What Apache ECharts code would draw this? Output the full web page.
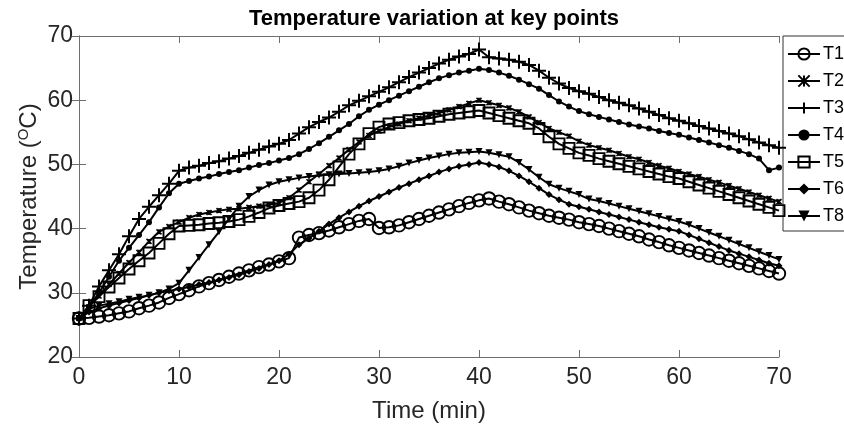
<!DOCTYPE html>
<html>
<head>
<meta charset="utf-8">
<script src="https://cdn.jsdelivr.net/npm/echarts@6/dist/echarts.min.js"></script>
<style>html,body{margin:0;padding:0;background:#fff;}#c{width:844px;height:428px;}</style>
</head>
<body>
<div id="c"></div>
<script>
const time = [0,1,2,3,4,5,6,7,8,9,10,11,12,13,14,15,16,17,18,19,20,21,22,23,24,25,26,27,28,29,30,31,32,33,34,35,36,37,38,39,40,41,42,43,44,45,46,47,48,49,50,51,52,53,54,55,56,57,58,59,60,61,62,63,64,65,66,67,68,69,70];
const xTicks = [0,10,20,30,40,50,60,70];
const yTicks = [20,30,40,50,60,70];
const seriesNames = ['T1','T2','T3','T4','T5','T6','T8'];
const T1 = [26,26.1,26.3,26.5,26.8,27.1,27.6,28.0,28.5,29.2,29.8,30.4,31.0,31.5,32.0,32.5,33.0,33.5,34.0,34.4,34.9,35.4,38.6,39.0,39.3,39.7,40.2,40.7,41.2,41.5,40.1,40.2,40.5,41.0,41.5,42.0,42.5,43.0,43.5,44.0,44.4,44.7,44.2,43.8,43.3,42.8,42.4,42.0,41.7,41.4,41.0,40.7,40.4,40.0,39.6,39.2,38.8,38.3,37.9,37.4,37.0,36.6,36.2,35.8,35.4,35.0,34.6,34.2,33.8,33.4,33.0];
const T2 = [26,27.8,29.5,31.3,33.0,34.7,36.3,38.0,39.5,40.3,41.0,41.7,42.2,42.5,42.8,43.0,43.1,43.3,43.5,43.7,44.0,44.8,46.0,47.3,48.5,49.8,51.0,52.3,53.5,54.5,55.2,55.8,56.3,56.8,57.2,57.6,58.0,58.5,59.0,59.5,60.0,59.6,59.2,58.8,58.2,57.4,56.5,55.6,55.0,54.4,53.6,53.0,52.6,52.2,51.7,51.2,50.8,50.3,49.8,49.4,48.9,48.5,48.1,47.6,47.2,46.7,46.2,45.7,45.2,44.7,44.2];
const T3 = [26,28.0,31.0,33.5,36.0,38.8,41.5,43.4,45.2,47.0,49.0,49.5,49.8,50.2,50.5,50.9,51.3,51.8,52.3,52.8,53.2,53.8,54.8,55.8,56.6,57.3,58.2,59.2,59.9,60.6,61.3,62.0,62.8,63.6,64.3,65.0,65.7,66.3,66.8,67.2,67.9,66.7,66.5,66.3,66.0,65.5,64.6,63.5,62.6,61.9,61.4,61.0,60.5,60.0,59.6,59.2,58.7,58.2,57.7,57.2,56.8,56.4,56.0,55.6,55.2,54.8,54.4,53.9,53.4,53.0,52.6];
const T4 = [26,27.8,30.0,32.5,35.0,37.0,39.0,41.0,43.3,45.5,47.0,47.4,47.8,48.1,48.5,48.8,49.1,49.5,49.9,50.2,50.6,51.0,51.6,52.4,53.3,54.3,55.3,56.3,57.5,58.5,59.3,60.0,60.7,61.4,62.1,62.8,63.4,63.9,64.3,64.6,64.9,64.7,64.3,63.8,63.2,62.5,61.8,60.8,59.8,59.0,58.3,57.8,57.4,57.0,56.6,56.2,55.9,55.6,55.2,54.9,54.6,54.2,53.8,53.4,53.0,52.6,52.1,51.6,50.9,49.1,49.5];
const T5 = [26,28.0,29.4,30.9,32.3,33.7,35.0,36.2,37.7,39.2,40.4,40.5,40.6,40.8,40.9,41.1,41.4,41.9,42.5,43.2,43.6,43.9,44.2,44.8,46.0,47.6,49.6,51.6,53.2,54.8,55.8,56.3,56.5,56.8,57.0,57.2,57.5,57.8,58.0,58.2,58.4,58.0,57.6,57.2,56.8,56.4,55.6,54.3,53.2,52.5,51.8,51.4,50.9,50.5,50.1,49.7,49.3,48.9,48.5,48.1,47.8,47.3,46.8,46.3,45.8,45.3,44.8,44.3,43.8,43.3,42.8];
const T6 = [26,27.0,27.6,28.0,28.4,28.8,29.2,29.6,30.0,30.3,30.6,30.9,31.3,31.6,32.0,32.4,32.8,33.3,33.8,34.4,35.0,36.0,37.5,38.5,39.6,40.7,41.7,42.6,43.5,44.3,45.0,45.7,46.4,47.0,47.6,48.2,48.8,49.3,49.7,50.0,50.3,50.0,49.6,49.0,48.2,47.3,46.3,45.3,44.5,43.8,43.4,43.0,42.6,42.2,41.8,41.4,41.0,40.6,40.2,39.9,39.6,39.0,38.4,37.8,37.2,36.6,36.1,35.6,35.1,34.6,34.2];
const T8 = [26,27.5,28.0,28.3,28.6,29.0,29.3,29.6,30.0,30.6,31.5,33.5,35.5,37.5,39.5,41.5,43.5,45.0,46.0,46.8,47.3,47.6,47.9,48.1,48.3,48.4,48.5,48.6,48.7,48.8,49.0,49.3,49.7,50.2,50.6,51.0,51.3,51.6,51.8,51.9,52.0,51.8,51.5,51.2,50.3,49.2,48.0,46.9,46.3,45.8,45.3,44.6,44.3,43.9,43.5,43.1,42.7,42.3,41.9,41.5,41.1,40.6,40.0,39.4,38.8,38.2,37.6,37.0,36.4,35.8,35.2];

const values = [T1,T2,T3,T4,T5,T6,T8];
const symbols = [
  {symbol:'circle', size:12.5, fill:'transparent', bw:1.9},
  {symbol:'path://M0,0L10,10M0,10L10,0M5,0L5,10', size:5, fill:'transparent', bw:1.6},
  {symbol:'path://M5,0L5,10M0,5L10,5', size:14, fill:'transparent', bw:2},
  {symbol:'circle', size:6, fill:'#000', bw:0},
  {symbol:'rect', size:11, fill:'transparent', bw:1.9},
  {symbol:'diamond', size:7, fill:'#000', bw:0},
  {symbol:'path://M0,0L10,0L5,9Z', size:7, fill:'#000', bw:0}
];
const FONT = 'Liberation Sans, Arial, sans-serif';

const series = seriesNames.map((n,i)=>({
  name:n, type:'line',
  data: time.map((t,j)=>[t, values[i][j]]),
  symbol: symbols[i].symbol, symbolSize: symbols[i].size,
  showAllSymbol:true,
  lineStyle:{color:'#000', width:2},
  itemStyle:{color:symbols[i].fill, borderColor:'#000', borderWidth:symbols[i].bw},
  emphasis:{disabled:true},
  animation:false,
  z: 2+i
}));

const axisCommon = {
  axisLine:{show:true, lineStyle:{color:'#6e6e6e', width:1}},
  axisTick:{show:true, inside:true, length:7, lineStyle:{color:'#6e6e6e'}},
  splitLine:{show:false}
};

const chart = echarts.init(document.getElementById('c'), null, {renderer:'canvas'});
chart.setOption({
  backgroundColor:'#fff',
  animation:false,
  title:{text:'Temperature variation at key points', left:429, top:3, textAlign:'center',
    textStyle:{fontFamily:FONT, fontWeight:'bold', fontSize:22, color:'#000'}},
  grid:{left:79, right:65, top:36, bottom:67, containLabel:false},
  legend:{
    orient:'vertical', left:783, top:36,
    padding:[9,30,6,4], itemGap:9, itemWidth:32, itemHeight:14,
    backgroundColor:'#fff', borderColor:'#333', borderWidth:1,
    textStyle:{fontFamily:FONT, fontSize:18, color:'#000', padding:[0,0,0,-2]},
    data: seriesNames
  },
  xAxis:[
    Object.assign({type:'value', min:0, max:70, interval:10, position:'bottom',
      name:'Time (min)', nameLocation:'middle', nameGap:42, nameMoveOverlap:false,
      nameTextStyle:{fontFamily:FONT, fontSize:24, color:'#262626'},
      axisLabel:{fontFamily:FONT, fontSize:23, color:'#262626', margin:9,
        customValues: xTicks}
    }, axisCommon),
    Object.assign({type:'value', min:0, max:70, interval:10, position:'top',
      axisLabel:{show:false}}, axisCommon)
  ],
  yAxis:[
    Object.assign({type:'value', min:20, max:70, interval:10, position:'left',
      name:'Temperature ({sup|O}C)', nameLocation:'middle', nameGap:37, nameMoveOverlap:false,
      nameTextStyle:{fontFamily:FONT, fontSize:24, color:'#262626',
        rich:{sup:{fontFamily:FONT, fontSize:15, color:'#262626', verticalAlign:'bottom', padding:[0,0,11,0]}}},
      axisLabel:{fontFamily:FONT, fontSize:23, color:'#262626', margin:6,
        customValues: yTicks}
    }, axisCommon),
    Object.assign({type:'value', min:20, max:70, interval:10, position:'right',
      axisLabel:{show:false}}, axisCommon)
  ],
  series: series
});
</script>
</body>
</html>
